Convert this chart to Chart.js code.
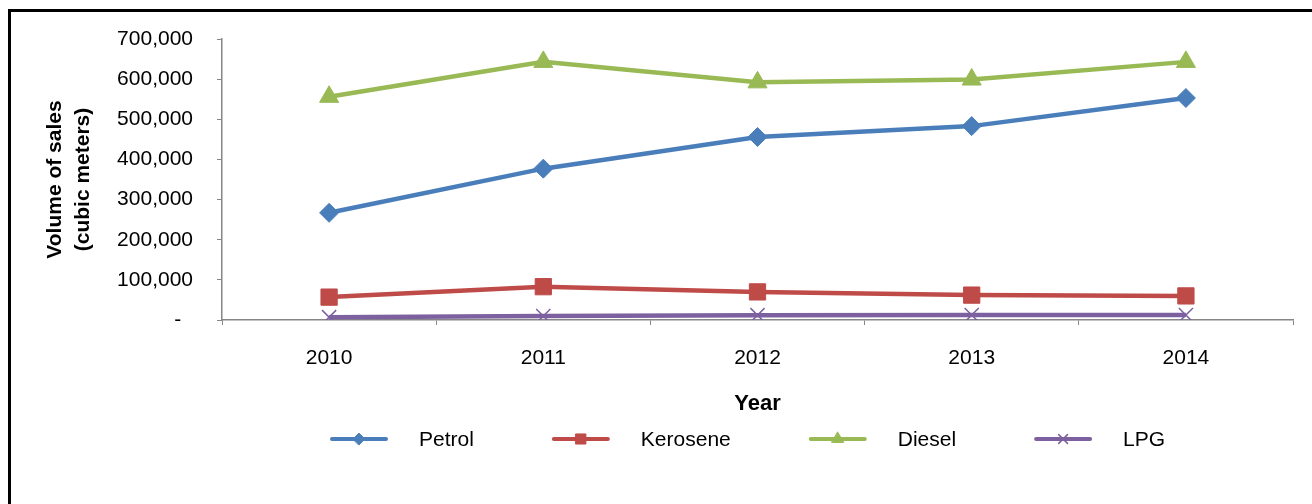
<!DOCTYPE html>
<html>
<head>
<meta charset="utf-8">
<title>Volume of sales</title>
<script src="https://cdn.jsdelivr.net/npm/chart.js@4/dist/chart.umd.min.js"></script>
<style>
    html, body { margin: 0; padding: 0; background: #fff; overflow: hidden; }
    #wrap { position: relative; width: 1312px; height: 504px; }
    #frame { position: absolute; left: 8px; top: 9px; width: 1400px; height: 600px; border: 3px solid #000; box-sizing: border-box; }
    #chartBox { position: absolute; left: 0; top: 0; width: 1312px; height: 504px; }
</style>
</head>
<body>
<div id="wrap">
    <div id="frame"></div>
    <div id="chartBox"><canvas id="salesChart"></canvas></div>
</div>
<script>
// years on the x axis
const years = ['2010', '2011', '2012', '2013', '2014'];

// volume of sales, cubic meters
const petrol   = [267000, 377000, 456000, 483000, 553000];
const kerosene = [57000, 83000, 70000, 62000, 60000];
const diesel   = [556000, 643000, 592000, 599000, 643000];
const lpg      = [7000, 10000, 12000, 12500, 12500];

const seriesNames = ['Petrol', 'Kerosene', 'Diesel', 'LPG'];
const yTitle = ['Volume of sales', '(cubic meters)'];
const xTitle = 'Year';

const FONT = '"Liberation Sans", Arial, sans-serif';
Chart.defaults.font.family = FONT;
Chart.defaults.color = '#000';

// legend drawn as line + marker, like the spreadsheet one
const lineLegend = {
    id: 'lineLegend',
    afterDraw(chart, args, opts) {
        const ctx = chart.ctx;
        ctx.save();
        ctx.font = opts.fontSize + 'px ' + FONT;
        ctx.textBaseline = 'middle';
        let x = opts.x;
        const y = opts.y;
        chart.data.datasets.forEach(ds => {
            ctx.strokeStyle = ds.borderColor;
            ctx.lineWidth = opts.lineWidth;
            ctx.lineCap = 'round';
            ctx.beginPath();
            ctx.moveTo(x, y);
            ctx.lineTo(x + opts.lineLength, y);
            ctx.stroke();

            ctx.fillStyle = ds.pointBackgroundColor;
            ctx.strokeStyle = ds.pointBorderColor;
            ctx.lineWidth = ds.pointBorderWidth;
            Chart.helpers.drawPoint(ctx, {
                pointStyle: ds.pointStyle,
                radius: ds.pointRadius * opts.markerScale,
                borderWidth: ds.pointBorderWidth,
                rotation: 0
            }, x + opts.lineLength / 2, y);

            ctx.fillStyle = '#000';
            ctx.fillText(ds.label, x + opts.textOffset, y + 1);
            x += opts.textOffset + ctx.measureText(ds.label).width + opts.gap;
        });
        ctx.restore();
    }
};

const ctx = document.getElementById('salesChart').getContext('2d');
const salesChart = new Chart(ctx, {
    type: 'line',
    data: {
        labels: years,
        datasets: [{
            label: seriesNames[0],
            data: petrol,
            borderColor: '#4A7EBB',
            backgroundColor: '#4A7EBB',
            pointBackgroundColor: '#4A7EBB',
            pointBorderColor: '#4A7EBB',
            pointBorderWidth: 1,
            pointStyle: 'rectRot',
            pointRadius: 9.5,
            borderWidth: 4.5
        }, {
            label: seriesNames[1],
            data: kerosene,
            borderColor: '#BE4B48',
            backgroundColor: '#BE4B48',
            pointBackgroundColor: '#BE4B48',
            pointBorderColor: '#BE4B48',
            pointBorderWidth: 1,
            pointStyle: 'rect',
            pointRadius: 11.5,
            borderWidth: 4.5
        }, {
            label: seriesNames[2],
            data: diesel,
            borderColor: '#98B954',
            backgroundColor: '#98B954',
            pointBackgroundColor: '#98B954',
            pointBorderColor: '#98B954',
            pointBorderWidth: 1,
            pointStyle: 'triangle',
            pointRadius: 11,
            borderWidth: 4.5
        }, {
            label: seriesNames[3],
            data: lpg,
            borderColor: '#7D60A0',
            backgroundColor: '#7D60A0',
            pointBackgroundColor: '#7D60A0',
            pointBorderColor: '#7D60A0',
            pointBorderWidth: 1.5,
            pointStyle: 'crossRot',
            pointRadius: 10,
            borderWidth: 4.5
        }]
    },
    options: {
        responsive: true,
        maintainAspectRatio: false,
        animation: false,
        layout: {
            padding: { left: 10, top: 39, right: 19, bottom: 0 }
        },
        plugins: {
            legend: { display: false },
            tooltip: { enabled: false },
            lineLegend: {
                x: 332, y: 439,
                fontSize: 21,
                lineLength: 54,
                lineWidth: 4,
                textOffset: 87,
                gap: 80,
                markerScale: 0.62
            }
        },
        scales: {
            x: {
                offset: true,
                grid: { offset: true, drawOnChartArea: false, tickLength: 5, color: '#868686' },
                border: { color: '#868686', width: 1.5 },
                ticks: { font: { size: 21 }, padding: 21, color: '#000' },
                title: {
                    display: true,
                    text: xTitle,
                    font: { size: 22, weight: 'bold' },
                    padding: { top: 0, bottom: 87 },
                    color: '#000'
                },
                afterFit(scale) { scale.height = 184; }
            },
            y: {
                min: 0,
                max: 700000,
                grid: { drawOnChartArea: false, tickLength: 5, color: '#868686' },
                border: { color: '#868686', width: 1.5 },
                ticks: {
                    stepSize: 100000,
                    font: { size: 21 },
                    padding: 24,
                    color: '#000',
                    callback: v => v === 0 ? '-\u00a0\u00a0' : v.toLocaleString('en-US')
                },
                title: {
                    display: true,
                    text: yTitle,
                    font: { size: 21, weight: 'bold', lineHeight: 1.3 },
                    padding: { top: 32, bottom: 0 },
                    color: '#000'
                },
                afterFit(scale) { scale.width = 212; }
            }
        }
    },
    plugins: [lineLegend]
});
</script>
</body>
</html>
